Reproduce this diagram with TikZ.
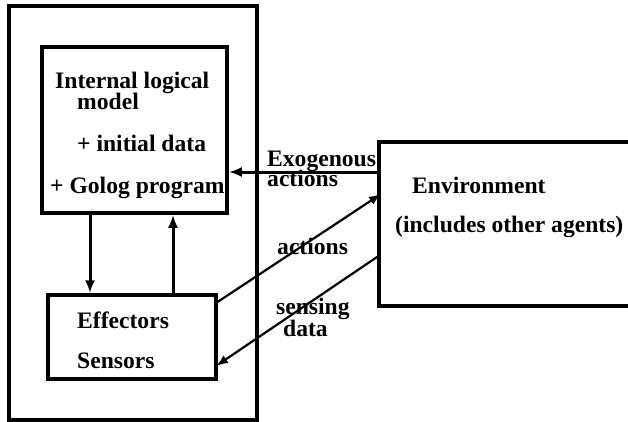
\documentclass[tikz,border=0pt]{standalone}
\usepackage{fontspec}
\setmainfont{Liberation Serif}
\usetikzlibrary{arrows.meta}
\newcommand{\twolines}[4]{\vtop{\baselineskip=#1\lineskiplimit=-30pt\hbox{#2}\hbox{\hspace*{#3}#4}}}
\begin{document}
\begin{tikzpicture}[x=1pt,y=-1pt,
  box/.style={draw,line width=3.5pt,rectangle,inner sep=0pt},
  lbl/.style={inner sep=0pt,anchor=base west,font=\fontsize{23.6}{26}\selectfont\bfseries},
  heavyarr/.style={line width=3pt,-{Latex[length=13pt,width=10pt]}},
  lightarr/.style={line width=2.2pt,-{Latex[length=12pt,width=9pt]}}]
\useasboundingbox (0,0) rectangle (628,422);
\clip (0,0) rectangle (628,422);
\node[box,minimum width=248pt,minimum height=414pt] (outer) at (133,213) {};
\node[box,minimum width=185pt,minimum height=166pt] (logic) at (134.5,130) {};
\node[box,minimum width=168pt,minimum height=84pt] (eff) at (132,337) {};
\node[box,minimum width=270pt,minimum height=164pt] (env) at (514,224) {};
% texts
\node[lbl] (t1) at (55,89) {\twolines{21pt}{Internal logical}{22pt}{model}};
\node[lbl] (t3) at (77,152) {+ initial data};
\node[lbl] (t4) at (50,193) {+ Golog program};
\node[lbl] (t5) at (267,167) {\twolines{20pt}{Exogenous}{0pt}{actions}};
\node[lbl] (t7) at (277,254) {actions};
\node[lbl] (t8) at (276,314) {\twolines{22pt}{sensing}{7pt}{data}};
\node[lbl] (t10) at (77,328) {Effectors};
\node[lbl] (t11) at (77,368) {Sensors};
\node[lbl] (t12) at (412,193) {Environment};
\node[lbl] (t13) at (395,232) {(includes other agents)};
% connector endpoints
\coordinate (d1) at (logic.south -| 90,0);
\coordinate (d2) at (eff.north -| 90,0);
\coordinate (u1) at (eff.north -| 173,0);
\coordinate (u2) at (logic.south -| 173,0);
\coordinate (x1) at (env.west |- 0,172);
\coordinate (x2) at (logic.east |- 0,172);
\coordinate (a1) at (216,303);
\coordinate (a2) at (381,194);
\coordinate (s1) at (380,255);
\coordinate (s2) at (216,366);
\draw[heavyarr] (d1) -- (d2);
\draw[heavyarr] (u1) -- (u2);
\draw[heavyarr] (x1) -- (x2);
\draw[lightarr] (a1) -- (a2);
\draw[lightarr] (s1) -- (s2);
\end{tikzpicture}
\end{document}
